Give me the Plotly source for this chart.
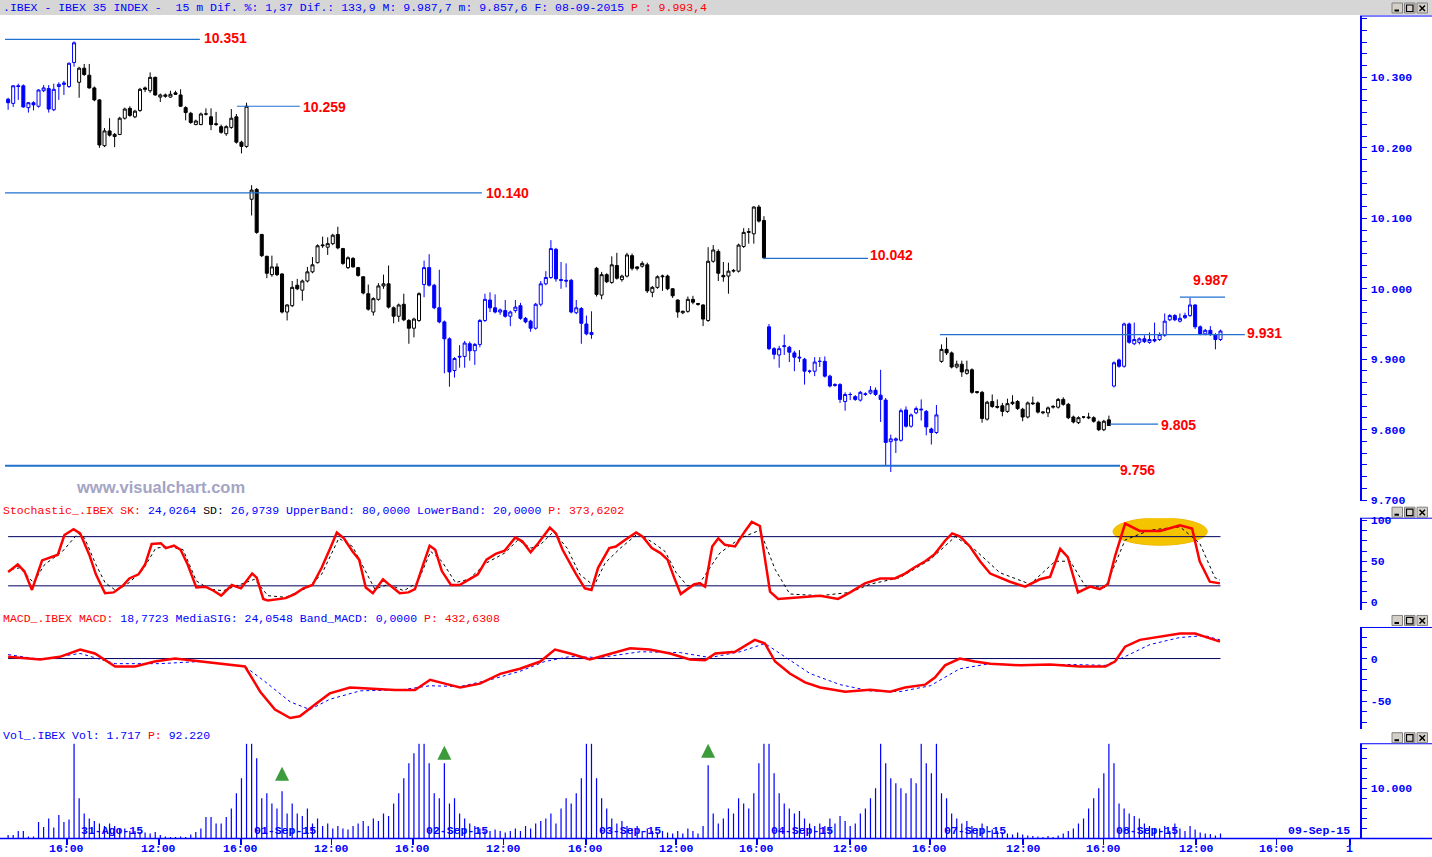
import plotly.graph_objects as go

# ---------------- data ----------------
# x = bar index, 0 = first 15-minute bar of 31-Aug-2015, 34 bars per session
session_first_bar = [-14, 0, 34, 68, 102, 136, 170, 204]
session_colors = ["#0000ff", "#000000", "#000000", "#0000ff",
                  "#000000", "#0000ff", "#000000", "#0000ff"]

# (open, high, low, close)
ohlc_28aug = [(10269, 10271, 10254, 10264), (10263, 10289, 10258, 10288), (10288, 10291, 10268, 10287),
              (10288, 10290, 10257, 10258), (10257, 10265, 10250, 10264), (10264, 10266, 10253, 10261),
              (10259, 10283, 10257, 10282), (10281, 10289, 10279, 10285), (10284, 10289, 10250, 10255),
              (10254, 10291, 10252, 10283), (10287, 10293, 10268, 10290), (10290, 10295, 10275, 10292),
              (10287, 10321, 10285, 10320), (10321, 10351, 10315, 10349)]
ohlc_31aug = [(10293, 10315, 10271, 10313), (10313, 10319, 10302, 10304), (10303, 10319, 10284, 10285),
              (10285, 10287, 10266, 10268), (10268, 10269, 10200, 10204), (10203, 10228, 10201, 10224),
              (10224, 10242, 10216, 10218), (10216, 10221, 10201, 10219), (10219, 10244, 10218, 10242),
              (10242, 10257, 10240, 10255), (10256, 10259, 10244, 10246), (10244, 10254, 10242, 10252),
              (10253, 10285, 10251, 10283), (10285, 10287, 10279, 10283), (10281, 10307, 10278, 10300),
              (10300, 10301, 10274, 10275), (10272, 10277, 10265, 10275), (10273, 10277, 10271, 10275),
              (10272, 10281, 10271, 10276), (10278, 10281, 10275, 10276), (10275, 10283, 10258, 10259),
              (10257, 10259, 10239, 10250), (10249, 10251, 10234, 10236), (10233, 10240, 10232, 10238),
              (10233, 10250, 10232, 10248), (10248, 10256, 10246, 10248), (10244, 10256, 10225, 10233),
              (10233, 10251, 10231, 10234), (10230, 10233, 10220, 10222), (10220, 10232, 10217, 10230),
              (10229, 10255, 10227, 10242), (10244, 10248, 10206, 10208), (10208, 10210, 10192, 10202),
              (10202, 10264, 10200, 10259)]
ohlc_01sep = [(10127, 10147, 10104, 10140), (10141, 10143, 10078, 10080), (10077, 10078, 10045, 10047),
              (10046, 10047, 10015, 10022), (10020, 10047, 10017, 10031), (10031, 10036, 10018, 10020),
              (10021, 10022, 9965, 9967), (9967, 9978, 9955, 9977), (9976, 10011, 9974, 10002),
              (10005, 10014, 9998, 10000), (9998, 10013, 9983, 10011), (10011, 10031, 10009, 10024),
              (10024, 10045, 10022, 10034), (10037, 10063, 10036, 10061), (10061, 10074, 10058, 10062),
              (10059, 10073, 10048, 10064), (10064, 10078, 10062, 10076), (10077, 10088, 10056, 10058),
              (10057, 10058, 10034, 10036), (10030, 10046, 10028, 10044), (10043, 10045, 10030, 10031),
              (10030, 10031, 10017, 10019), (10017, 10018, 9992, 9994), (9993, 10006, 9969, 9971),
              (9967, 9988, 9962, 9986), (9985, 10008, 9983, 10004), (10004, 10020, 10000, 10007),
              (10007, 10033, 9972, 9974), (9973, 9975, 9951, 9961), (9961, 9979, 9953, 9977),
              (9978, 9993, 9954, 9956), (9955, 9957, 9922, 9944), (9944, 9959, 9931, 9957),
              (9955, 9995, 9953, 9993)]
ohlc_02sep = [(10006, 10040, 9988, 10030), (10030, 10049, 10003, 10005), (10005, 10007, 9971, 9973),
              (9973, 10027, 9951, 9953), (9953, 9955, 9880, 9929), (9929, 9931, 9861, 9882),
              (9884, 9903, 9874, 9901), (9903, 9920, 9888, 9904), (9904, 9926, 9888, 9923),
              (9922, 9925, 9898, 9912), (9912, 9923, 9892, 9921), (9921, 9957, 9917, 9955),
              (9955, 9993, 9953, 9985), (9984, 9995, 9967, 9973), (9973, 9992, 9965, 9967),
              (9967, 9972, 9963, 9970), (9969, 9984, 9959, 9961), (9961, 9969, 9947, 9967),
              (9969, 9984, 9966, 9974), (9976, 9980, 9956, 9958), (9958, 9960, 9951, 9953),
              (9954, 9956, 9939, 9944), (9944, 9980, 9942, 9978), (9978, 10011, 9975, 10007),
              (10007, 10025, 10005, 10016), (10016, 10069, 10014, 10057), (10056, 10058, 10010, 10014),
              (10013, 10038, 10000, 10012), (10012, 10036, 10002, 10011), (10012, 10014, 9965, 9967),
              (9966, 9984, 9964, 9973), (9972, 9974, 9922, 9951), (9950, 9962, 9934, 9936),
              (9935, 9968, 9929, 9938)]
ohlc_03sep = [(10029, 10031, 9989, 9992), (9991, 10024, 9985, 10020), (10020, 10022, 10008, 10010),
              (10009, 10046, 10007, 10034), (10033, 10051, 10013, 10015), (10013, 10020, 10010, 10018),
              (10018, 10051, 10016, 10048), (10047, 10050, 10026, 10029), (10031, 10032, 10026, 10029),
              (10032, 10039, 10030, 10036), (10034, 10037, 9994, 9997), (9995, 10004, 9988, 10002),
              (10002, 10019, 10000, 10017), (10017, 10020, 9997, 10018), (10018, 10020, 9998, 10000),
              (10000, 10001, 9987, 9990), (9984, 9985, 9959, 9967), (9966, 9969, 9964, 9968),
              (9968, 9989, 9966, 9985), (9985, 9990, 9978, 9981), (9979, 9980, 9976, 9978),
              (9977, 9978, 9947, 9957), (9955, 10059, 9953, 10039), (10039, 10062, 10037, 10055),
              (10053, 10056, 10011, 10022), (10019, 10038, 10010, 10017), (10018, 10037, 9993, 10025),
              (10025, 10028, 10023, 10026), (10025, 10064, 10023, 10062), (10060, 10086, 10058, 10080),
              (10080, 10086, 10064, 10081), (10078, 10117, 10064, 10116), (10116, 10119, 10094, 10096),
              (10097, 10103, 10042, 10044)]
ohlc_04sep = [(9946, 9950, 9913, 9915), (9915, 9917, 9900, 9907), (9906, 9919, 9888, 9915),
              (9918, 9935, 9906, 9919), (9917, 9919, 9896, 9910), (9909, 9912, 9883, 9903),
              (9903, 9913, 9896, 9902), (9900, 9902, 9864, 9883), (9883, 9885, 9880, 9883),
              (9883, 9903, 9876, 9896), (9897, 9903, 9889, 9897), (9897, 9904, 9874, 9876),
              (9876, 9878, 9860, 9862), (9864, 9866, 9861, 9863), (9864, 9866, 9838, 9843),
              (9840, 9853, 9827, 9850), (9850, 9853, 9842, 9850), (9847, 9849, 9841, 9843),
              (9842, 9855, 9840, 9853), (9851, 9853, 9848, 9850), (9852, 9862, 9850, 9856),
              (9856, 9860, 9848, 9850), (9849, 9885, 9811, 9843), (9842, 9845, 9749, 9782),
              (9783, 9793, 9740, 9787), (9785, 9789, 9767, 9787), (9785, 9830, 9783, 9827),
              (9828, 9833, 9803, 9805), (9805, 9823, 9803, 9821), (9824, 9833, 9822, 9830),
              (9828, 9843, 9813, 9829), (9826, 9828, 9792, 9804), (9801, 9803, 9779, 9796),
              (9796, 9835, 9794, 9821)]
ohlc_07sep = [(9897, 9921, 9895, 9914), (9914, 9931, 9906, 9909), (9909, 9911, 9887, 9889),
              (9889, 9898, 9887, 9893), (9893, 9898, 9875, 9882), (9880, 9898, 9878, 9885),
              (9885, 9887, 9851, 9853), (9854, 9855, 9851, 9853), (9853, 9855, 9810, 9816),
              (9815, 9841, 9813, 9839), (9840, 9850, 9831, 9833), (9833, 9843, 9830, 9832),
              (9834, 9838, 9819, 9826), (9826, 9844, 9824, 9837), (9837, 9849, 9835, 9839),
              (9840, 9842, 9828, 9830), (9829, 9831, 9812, 9818), (9818, 9840, 9816, 9838),
              (9838, 9847, 9835, 9837), (9838, 9840, 9823, 9825), (9824, 9826, 9822, 9825),
              (9824, 9833, 9818, 9831), (9832, 9835, 9830, 9833), (9832, 9845, 9830, 9843),
              (9843, 9846, 9834, 9836), (9836, 9838, 9815, 9817), (9818, 9820, 9809, 9811),
              (9810, 9819, 9808, 9817), (9818, 9819, 9816, 9818), (9818, 9824, 9815, 9817),
              (9817, 9819, 9810, 9812), (9811, 9813, 9798, 9800), (9800, 9814, 9798, 9812),
              (9814, 9820, 9806, 9806)]
ohlc_08sep = [(9862, 9897, 9860, 9895), (9899, 9901, 9888, 9890), (9890, 9952, 9888, 9950),
              (9950, 9952, 9922, 9924), (9922, 9952, 9920, 9928), (9924, 9931, 9921, 9929),
              (9929, 9934, 9923, 9925), (9924, 9938, 9922, 9928), (9928, 9952, 9924, 9926),
              (9928, 9938, 9926, 9935), (9934, 9965, 9932, 9954), (9956, 9964, 9954, 9962),
              (9962, 9964, 9954, 9956), (9954, 9965, 9952, 9958), (9959, 9966, 9957, 9962),
              (9962, 9987, 9960, 9977), (9977, 9978, 9943, 9946), (9946, 9948, 9934, 9936),
              (9936, 9943, 9934, 9941), (9941, 9947, 9933, 9935), (9935, 9937, 9914, 9928),
              (9928, 9942, 9926, 9940)]

vol_28aug = [700, 700, 1500, 1500, 400, 400, 3300, 2300, 4000, 2200, 4700, 3300, 3800, 19000]
vol_31aug = [8000, 5000, 4000, 3500, 3000, 2500, 3000, 2500, 2000, 2000, 1500, 1500, 1300, 1200, 1000, 1300,
             700, 400, 300, 300, 400, 300, 800, 1300, 2000, 4300, 4300, 3000, 3000, 4300, 6000, 9000, 12000, 19000]
vol_01sep = [19000, 16000, 8000, 9000, 7000, 6000, 9400, 5000, 7000, 5000, 4500, 6000, 3000, 4000, 2500, 3000,
             2000, 2500, 2000, 1800, 2500, 3000, 3500, 2500, 4000, 3500, 5000, 4500, 7000, 9000, 12000, 15000,
             17000, 19000]
vol_02sep = [19000, 15000, 9000, 8000, 15000, 7000, 8000, 5000, 4000, 3000, 2500, 2000, 1500, 1500, 1800, 1500,
             1200, 1500, 2000, 1500, 2500, 2000, 3000, 3500, 4000, 5000, 3000, 6000, 8000, 7000, 9000, 12000,
             19000, 19000]
vol_03sep = [12000, 8000, 6000, 4000, 3000, 3500, 2500, 2000, 2500, 1500, 2000, 1500, 1200, 1500, 1200, 1000,
             1500, 1000, 2000, 1500, 1000, 2500, 14600, 5000, 3000, 4000, 6000, 5000, 8000, 7000, 6000, 9000,
             15000, 19000]
vol_04sep = [19000, 13000, 9000, 7000, 6000, 5000, 5500, 4000, 3000, 2500, 3000, 2500, 4000, 3000, 4500, 3500,
             2500, 3000, 5000, 6000, 8000, 10000, 19000, 15000, 12000, 11000, 10000, 9000, 12000, 11000, 19000,
             15000, 13000, 19000]
vol_07sep = [9000, 8000, 5000, 4000, 3000, 3500, 2500, 2000, 3000, 2500, 1800, 1500, 1200, 1000, 800, 1200,
             800, 600, 500, 400, 300, 500, 300, 600, 1000, 1500, 2000, 3000, 4000, 6000, 8000, 10000, 13000, 19000]
vol_08sep = [15000, 7000, 6000, 5000, 4500, 4000, 3000, 2500, 2000, 2000, 2500, 1500, 3000, 2000, 1500, 2500,
             1800, 1200, 1000, 900, 600, 1000]

# stochastic %K (red) and %D (dotted), sampled along the curve
sk_x = [-14.0, -12.1, -10.8, -9.3, -7.3, -5.5, -4.2, -2.9, -1.1, 0.2, 2.0, 3.3, 5.1, 6.8, 8.6, 9.9, 11.7, 13.0,
        14.3, 16.1, 17.1, 18.7, 20.0, 21.4, 23.1, 24.9, 26.5, 28.0, 30.1, 31.9, 34.1, 35.0, 36.3, 37.2, 40.7,
        42.5, 44.2, 46.0, 47.8, 49.5, 50.8, 52.2, 53.9, 55.2, 56.5, 57.9, 59.9, 61.4, 63.2, 64.9, 66.2, 67.6,
        69.1, 70.2, 71.5, 73.3, 75.0, 76.4, 78.6, 80.3, 82.1, 83.9, 86.0, 87.4, 89.0, 90.5, 92.8, 94.0, 95.3,
        97.9, 99.7, 101.0, 102.3, 104.5, 105.8, 107.6, 109.8, 111.1, 112.9, 114.6, 116.0, 117.3, 118.6, 119.9,
        121.3, 122.4, 123.4, 124.8, 126.0, 127.3, 129.3, 131.3, 132.6, 134.2, 135.2, 136.2, 137.8, 142.1, 146.1,
        149.6, 152.0, 154.9, 157.9, 160.8, 162.8, 164.8, 166.8, 168.7, 170.7, 172.1, 173.7, 175.6, 177.6, 179.6,
        183.5, 186.5, 189.4, 191.4, 193.4, 194.9, 196.9, 199.3, 201.2, 202.8, 204.2, 206.2, 209.1, 213.1, 217.0,
        219.4, 220.9, 222.9, 224.9]
sk_val = [37, 46, 38, 15, 51, 55, 58, 82, 89, 84, 58, 34, 11, 12, 20, 29, 34, 46, 71, 72, 66, 69, 64, 46, 18,
          19, 14, 8, 21, 17, 35, 30, 4, 2, 5, 10, 17, 21, 42, 66, 85, 78, 62, 52, 18, 11, 28, 20, 11, 12, 16, 42,
          69, 64, 38, 21, 21, 26, 34, 52, 59, 63, 79, 74, 61, 72, 91, 84, 64, 35, 17, 15, 42, 66, 68, 76, 85, 80,
          66, 60, 52, 30, 10, 16, 22, 23, 19, 68, 78, 70, 68, 87, 98, 93, 50, 13, 4, 6, 8, 4, 12, 23, 29, 29, 35,
          43, 50, 59, 75, 84, 80, 68, 50, 35, 25, 19, 28, 31, 65, 55, 12, 19, 16, 22, 56, 96, 87, 87, 94, 90, 50,
          25, 23]
sd_x = [-13.4, -11.7, -9.0, -6.8, -3.3, -0.2, 1.1, 3.3, 5.1, 7.3, 9.9, 12.6, 15.1, 17.8, 20.5, 23.1, 25.7, 28.4,
        31.0, 34.6, 37.2, 40.7, 45.1, 47.8, 51.2, 53.9, 56.1, 58.3, 61.0, 64.0, 66.7, 69.3, 71.5, 74.2, 76.8,
        80.3, 83.9, 86.5, 89.1, 90.9, 93.5, 96.2, 98.7, 101.5, 103.7, 106.7, 110.2, 113.3, 115.5, 117.7, 119.9,
        122.4, 126.3, 130.3, 134.2, 137.2, 140.1, 146.1, 152.0, 155.9, 161.8, 167.8, 172.7, 176.6, 181.5, 187.5,
        192.4, 195.4, 198.3, 202.3, 206.2, 211.1, 217.0, 220.9, 223.9, 224.9]
sd_val = [40, 42, 24, 46, 62, 84, 78, 46, 24, 14, 24, 40, 66, 68, 64, 26, 16, 14, 20, 28, 8, 6, 18, 34, 78, 68,
          42, 16, 22, 14, 24, 62, 50, 24, 28, 48, 60, 76, 66, 70, 86, 66, 34, 20, 48, 66, 84, 72, 62, 36, 20, 24,
          60, 78, 88, 40, 10, 8, 12, 22, 30, 52, 80, 64, 36, 22, 50, 50, 20, 18, 76, 88, 92, 72, 30, 27]

# MACD (red) and signal (dotted blue)
macd_x = [-14.0, -7.7, -3.8, 0.2, 3.1, 7.1, 11.0, 14.9, 18.9, 23.8, 28.7, 32.7, 35.7, 38.6, 41.6, 43.5, 46.5,
          49.4, 53.4, 57.3, 62.3, 66.2, 69.2, 72.1, 75.1, 79.0, 83.0, 86.9, 90.9, 93.8, 96.8, 100.7, 104.7,
          108.6, 112.5, 116.5, 120.4, 123.4, 125.4, 129.3, 133.2, 135.2, 137.2, 140.1, 143.1, 146.1, 151.0,
          155.9, 159.9, 162.8, 166.8, 168.7, 170.7, 173.6, 176.6, 179.6, 185.5, 191.4, 197.3, 202.3, 204.2,
          206.2, 209.1, 213.1, 217.0, 220.0, 222.9, 224.9]
macd_val = [2, -1, 2, 10.6, 6, -9.4, -9.4, -3.5, 0, -3.5, -7, -9.4, -39, -60, -70, -68, -54, -41, -34, -35,
            -37, -37, -25, -29.5, -34, -29.5, -18, -12, -3.5, 10.6, 6, -1, 6, 12, 10.6, 6, -1, -2, 6, 8, 22,
            17.7, -3.5, -17.7, -28, -34, -39, -36.6, -39, -34, -30.7, -22.4, -8, 0, -3.5, -6, -8, -7, -9.4,
            -9.4, -3.5, 14, 22, 26, 29.5, 29.5, 23.6, 20]
sig_x = [-14.0, -7.7, 0.2, 7.1, 15.9, 23.8, 32.7, 36.6, 41.6, 45.5, 49.4, 55.4, 63.3, 69.2, 75.1, 81.0, 86.9,
         91.8, 96.8, 102.7, 110.6, 118.5, 124.4, 130.3, 135.2, 139.1, 144.1, 150.0, 155.9, 161.8, 167.8, 173.6,
         179.6, 187.5, 195.4, 202.3, 206.2, 211.1, 217.0, 221.9, 224.9]
sig_val = [4.7, -1, 6, -6, -6, -3.5, -9.4, -27, -51, -60, -48, -38, -37, -32, -33, -25, -15, -3.5, 2.4, 1.2, 8,
           7, 1.2, 8, 17.7, 2.4, -17.7, -30.7, -38, -39, -32, -12, -6, -8, -7, -8, 2.4, 16.5, 24.8, 27, 22]

# horizontal support / resistance levels drawn on the price panel
level_price = [10354, 10259, 10136, 10043, 9988, 9935, 9808, 9749]
level_text = ["10.351", "10.259", "10.140", "10.042", "9.987", "9.931", "9.805", "9.756"]
level_from = [-14.6, 31.1, -14.6, 134.8, 217.0, 169.7, 203.2, -14.6]
level_to = [23.8, 43.5, 79.4, 155.5, 225.9, 229.8, 212.7, 205.2]

hour_tick_x = [-2.4, 15.7, 31.9, 49.7, 65.8, 83.7, 99.9, 117.7, 133.6, 152.0, 167.7, 186.1, 201.9, 220.2, 236.0, 250.5]
hour_tick_text = ["16:00", "12:00", "16:00", "12:00", "16:00", "12:00", "16:00", "12:00", "16:00", "12:00",
                  "16:00", "12:00", "16:00", "12:00", "16:00", "1"]
date_label_x = [0, 34, 68, 102, 136, 170, 204, 238]
date_label_text = ["31-Ago-15", "01-Sep-15", "02-Sep-15", "03-Sep-15", "04-Sep-15", "07-Sep-15", "08-Sep-15",
                   "09-Sep-15"]
signal_bars = [40, 72, 124]
signal_level = [14300, 18500, 18900]

# ---------------- figure ----------------
W, H = 1432, 857
BLUE = "#0000ff"
RED = "#ff0000"
LEVEL = "#2070d0"
MONO = "Liberation Mono, Courier New, monospace"
SANS = "Liberation Sans, Arial, sans-serif"
XR = 1360 / W

# the photographed page maps layout pixel y to about 4 + 0.986*y; place things so they land
# on the reference pixel rows
Y_OFF, Y_SC = 4.0, 0.986


def fx(px):
    return px / W


def fy(py):
    return 1 - ((py - Y_OFF) / Y_SC) / H


sessions_ohlc = [ohlc_28aug, ohlc_31aug, ohlc_01sep, ohlc_02sep, ohlc_03sep, ohlc_04sep, ohlc_07sep, ohlc_08sep]
sessions_vol = [vol_28aug, vol_31aug, vol_01sep, vol_02sep, vol_03sep, vol_04sep, vol_07sep, vol_08sep]

fig = go.Figure()

groups = {}
vx, vy = [], []
for first, color, rows, vols in zip(session_first_bar, session_colors, sessions_ohlc, sessions_vol):
    g = groups.setdefault(color, {"x": [], "o": [], "h": [], "l": [], "c": []})
    for i, (o, h, l, c) in enumerate(rows):
        g["x"].append(first + i)
        g["o"].append(o)
        g["h"].append(h)
        g["l"].append(l)
        g["c"].append(c)
    for i, v in enumerate(vols):
        vx.append(first + i)
        vy.append(v)

for color, g in groups.items():
    fig.add_trace(go.Candlestick(
        x=g["x"], open=g["o"], high=g["h"], low=g["l"], close=g["c"],
        increasing=dict(line=dict(color=color, width=1), fillcolor="white"),
        decreasing=dict(line=dict(color=color, width=1), fillcolor=color),
        whiskerwidth=0, xaxis="x", yaxis="y", showlegend=False, hoverinfo="skip"))

# stochastic
band_x = [-14, 225]
BAND = "#000060"
fig.add_trace(go.Scatter(x=band_x, y=[80, 80], mode="lines", line=dict(color=BAND, width=1),
                         xaxis="x", yaxis="y2", showlegend=False, hoverinfo="skip"))
fig.add_trace(go.Scatter(x=band_x, y=[20, 20], mode="lines", line=dict(color=BAND, width=1),
                         xaxis="x", yaxis="y2", showlegend=False, hoverinfo="skip"))
fig.add_trace(go.Scatter(x=sd_x, y=sd_val, mode="lines", line=dict(color="black", width=1, dash="dot"),
                         xaxis="x", yaxis="y2", showlegend=False, hoverinfo="skip"))
fig.add_trace(go.Scatter(x=sk_x, y=sk_val, mode="lines", line=dict(color=RED, width=2.5),
                         xaxis="x", yaxis="y2", showlegend=False, hoverinfo="skip"))

# MACD
fig.add_trace(go.Scatter(x=band_x, y=[0, 0], mode="lines", line=dict(color=BAND, width=1),
                         xaxis="x", yaxis="y3", showlegend=False, hoverinfo="skip"))
fig.add_trace(go.Scatter(x=sig_x, y=sig_val, mode="lines", line=dict(color=BLUE, width=1, dash="dot"),
                         xaxis="x", yaxis="y3", showlegend=False, hoverinfo="skip"))
fig.add_trace(go.Scatter(x=macd_x, y=macd_val, mode="lines", line=dict(color=RED, width=2.5),
                         xaxis="x", yaxis="y3", showlegend=False, hoverinfo="skip"))

# volume
fig.add_trace(go.Bar(x=vx, y=vy, width=0.24, marker=dict(color=BLUE, line=dict(width=0)),
                     xaxis="x", yaxis="y4", showlegend=False, hoverinfo="skip"))

shapes = []
annotations = []

# level lines and labels
label_shift = {"10.351": (2, 1), "10.259": (1, -1), "10.140": (2, 0), "10.042": (0, 3),
               "9.931": (0, 2), "9.805": (1, -1), "9.756": (-2, -4)}
for p, t, a, b in zip(level_price, level_text, level_from, level_to):
    shapes.append(dict(type="line", xref="x", yref="y", x0=a, x1=b, y0=p, y1=p,
                       line=dict(color=LEVEL, width=2 if t == "9.756" else 1.2)))
    if t == "9.987":
        annotations.append(dict(x=(a + b) / 2 + 1.5, y=p, xref="x", yref="y", text=t, showarrow=False,
                                xanchor="center", yanchor="middle", yshift=17,
                                font=dict(family=SANS, size=14, color=RED, weight="bold")))
    else:
        dx, dy = label_shift[t]
        annotations.append(dict(x=b, y=p, xref="x", yref="y", text=t, showarrow=False,
                                xanchor="left", yanchor="middle", xshift=dx, yshift=dy,
                                font=dict(family=SANS, size=14, color=RED, weight="bold")))

# highlight on the stochastic
shapes.append(dict(type="circle", xref="x", yref="y2", x0=203.8, x1=222.4, y0=69.5, y1=103,
                   fillcolor="#f5c400", line=dict(color="#f0b800", width=1), layer="below"))

# title bar
shapes.append(dict(type="rect", xref="paper", yref="paper", x0=0, x1=1, y0=fy(15), y1=1.01,
                   fillcolor="#d6d6d6", line=dict(width=0), layer="below"))

# right-side panel top lines and bottom baseline
for py in [16, 517, 626, 742]:
    shapes.append(dict(type="line", xref="paper", yref="paper", x0=XR, x1=1, y0=fy(py), y1=fy(py),
                       line=dict(color=BLUE, width=1)))
shapes.append(dict(type="line", xref="paper", yref="paper", x0=0, x1=1, y0=fy(836.5), y1=fy(836.5),
                   line=dict(color=BLUE, width=1.5)))

# window buttons
for top in [3, 506, 614, 731]:
    for left, kind in [(1392, "min"), (1404.5, "max"), (1417, "close")]:
        shapes.append(dict(type="rect", xref="paper", yref="paper", x0=fx(left), x1=fx(left + 10.5),
                           y0=fy(top + 10), y1=fy(top), fillcolor="#d4d0c8",
                           line=dict(color="#808080", width=1)))
        if kind == "min":
            shapes.append(dict(type="line", xref="paper", yref="paper", x0=fx(left + 2.5), x1=fx(left + 7),
                               y0=fy(top + 7.5), y1=fy(top + 7.5), line=dict(color="black", width=2)))
        elif kind == "max":
            shapes.append(dict(type="rect", xref="paper", yref="paper", x0=fx(left + 2), x1=fx(left + 8.5),
                               y0=fy(top + 8.5), y1=fy(top + 2), line=dict(color="black", width=1.2)))
        else:
            shapes.append(dict(type="line", xref="paper", yref="paper", x0=fx(left + 2.5), x1=fx(left + 8),
                               y0=fy(top + 2.5), y1=fy(top + 8), line=dict(color="black", width=1.5)))
            shapes.append(dict(type="line", xref="paper", yref="paper", x0=fx(left + 2.5), x1=fx(left + 8),
                               y0=fy(top + 8), y1=fy(top + 2.5), line=dict(color="black", width=1.5)))


# header texts
def header(py, html):
    annotations.append(dict(x=fx(1), y=fy(py), xref="paper", yref="paper", text=html, showarrow=False,
                            xanchor="left", yanchor="middle",
                            font=dict(family=MONO, size=11.5, color=BLUE)))


header(7.5, ".IBEX - IBEX 35 INDEX -  15 m Dif. %: 1,37 Dif.: 133,9 M: 9.987,7 m: 9.857,6 "
            "F: 08-09-2015 <span style='color:#ff0000'>P : 9.993,4</span>")
header(509, "<span style='color:#ff0000'>Stochastic_.IBEX SK:</span> 24,0264 "
            "<span style='color:#000000'>SD:</span> 26,9739 UpperBand: 80,0000 LowerBand: 20,0000 "
            "<span style='color:#ff0000'>P: 373,6202</span>")
header(617, "<span style='color:#ff0000'>MACD_.IBEX MACD:</span> 18,7723 MediaSIG: 24,0548 "
            "Band_MACD: 0,0000 <span style='color:#ff0000'>P: 432,6308</span>")
header(734, "Vol_.IBEX Vol: 1.717 <span style='color:#ff0000'>P:</span> 92.220")

# watermark
annotations.append(dict(x=fx(74), y=fy(486), xref="paper", yref="paper", text="www.visualchart.com",
                        showarrow=False, xanchor="left", yanchor="middle",
                        font=dict(family=SANS, size=16.5, color="#a4a4c4", weight="bold")))

# date labels inside the volume panel
for t, txt in zip(date_label_x, date_label_text):
    annotations.append(dict(x=t, y=fy(829), xref="x", yref="paper", text=txt, showarrow=False,
                            xanchor="left", yanchor="middle", xshift=0,
                            font=dict(family=MONO, size=11.5, color=BLUE, weight="bold")))

# hour labels under the time axis
for t, txt in zip(hour_tick_x, hour_tick_text):
    annotations.append(dict(x=t, y=fy(847), xref="x", yref="paper", text=txt, showarrow=False,
                            xanchor="center", yanchor="middle", borderpad=0,
                            font=dict(family=MONO, size=11.5, color=BLUE, weight="bold")))

# green signal arrows over volume bars
for t, v in zip(signal_bars, signal_level):
    annotations.append(dict(x=t, y=v, xref="x", yref="y4", ax=0, ay=15, text="", showarrow=True,
                            arrowhead=2, arrowsize=0.7, arrowwidth=4, arrowcolor="#3c9c3c", standoff=0))

tickfont = dict(family=MONO, size=11.5, color=BLUE, weight="bold")


def yax(domain, rng, vals, texts, minor_dtick, tick0):
    return dict(domain=domain, range=rng, anchor="x", side="right", showgrid=False, zeroline=False,
                showline=True, linecolor=BLUE, linewidth=1.5, ticks="outside", ticklen=5, tickcolor=BLUE,
                tickwidth=1, tickvals=vals, ticktext=texts, tickfont=tickfont, ticklabelstandoff=2,
                minor=dict(ticks="outside", ticklen=5, tickcolor=BLUE, dtick=minor_dtick, tick0=tick0,
                           showgrid=False),
                fixedrange=True)


price_ticks = [9700, 9800, 9900, 10000, 10100, 10200, 10300]
fig.update_layout(
    width=W, height=H, margin=dict(l=0, r=0, t=0, b=0), autosize=False,
    paper_bgcolor="white", plot_bgcolor="white", showlegend=False, hovermode=False,
    xaxis=dict(domain=[0, XR], range=[-15.6, 252.5], anchor="y4", showgrid=False, zeroline=False,
               showline=False, ticks="outside", ticklen=6, tickcolor=BLUE, tickwidth=1.5,
               tickvals=hour_tick_x, showticklabels=False,
               rangeslider=dict(visible=False), fixedrange=True),
    yaxis=yax([fy(500), fy(16)], [9698.6, 10387], price_ticks,
              ["9.700", "9.800", "9.900", "10.000", "10.100", "10.200", "10.300"], 100 / 6, 9700),
    yaxis2=yax([fy(609), fy(517)], [-10, 102.5], [0, 50, 100], ["0", "50", "100"], 12.5, 0),
    yaxis3=yax([fy(727), fy(626)], [-82.6, 36.6], [-50, 0], ["-50", "0"], 12.5, 0),
    yaxis4=yax([fy(836.5), fy(742)], [0, 18900], [10000], ["10.000"], 2000, 0),
    shapes=shapes, annotations=annotations, boxgap=0.15,
)

post = ("document.documentElement.style.margin='0';document.documentElement.style.padding='0';"
        "document.documentElement.style.overflow='hidden';"
        "document.body.style.margin='0';document.body.style.padding='0';document.body.style.overflow='hidden';"
        "var d=document.getElementById('{plot_id}');d.style.position='fixed';d.style.left='0px';"
        "d.style.top='0px';")
fig.write_html("out.html", config={"displayModeBar": False, "staticPlot": True}, post_script=post)
